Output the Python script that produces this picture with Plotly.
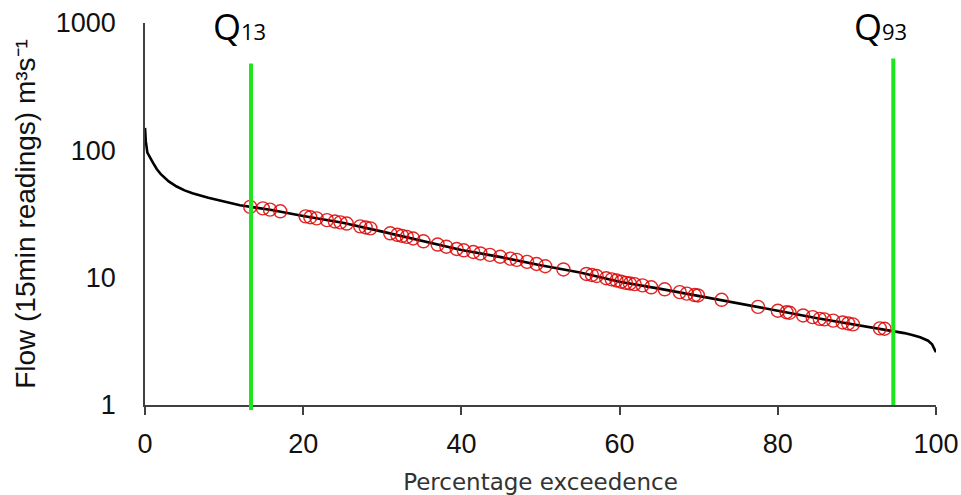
import plotly.graph_objects as go

# ---- data ----
curve_pct = [0, 0.1, 0.3, 0.6, 1, 1.5, 2, 3, 4, 5, 6, 8, 10, 12, 14, 16, 20, 25, 30, 35,
             40, 45, 50, 55, 60, 65, 70, 75, 80, 85, 90, 93, 95, 96, 97, 98, 99, 99.5, 99.8, 100]
curve_flow = [150, 118, 96, 88, 80, 71, 65, 57, 52, 48.5, 46, 42.5, 39.5, 37, 35.5, 34, 30.5, 27, 23, 19.5,
              16.5, 14.5, 12.5, 11, 9.3, 8.2, 7.2, 6.3, 5.5, 4.8, 4.25, 4.0, 3.8, 3.67, 3.55, 3.4, 3.2, 3.0, 2.75, 2.6]

obs_pct = [13.3, 14.9, 15.8, 17.1, 20.3, 20.9, 21.7, 23.0, 24.0, 24.7, 25.5, 27.2, 27.9, 28.5,
           31.0, 31.9, 32.5, 33.1, 33.9, 35.2, 37.0, 38.1, 39.4, 40.3, 41.5, 42.4, 43.6, 44.9,
           46.2, 47.0, 48.3, 49.5, 50.6, 52.9, 55.8, 56.5, 57.1, 58.3, 59.0, 59.6, 60.2, 60.8,
           61.3, 61.9, 62.9, 64.0, 65.7, 67.6, 68.5, 69.5, 69.9, 72.9, 77.5, 80.0, 81.1, 81.5,
           83.2, 84.4, 85.3, 85.9, 87.0, 88.2, 88.9, 89.5, 92.9, 93.5]
obs_flow = [36, 35, 34.2, 33.2, 30.3, 29.8, 29.2, 28.3, 27.6, 27.2, 26.6, 25.3, 24.8, 24.4,
            22.3, 21.7, 21.3, 20.9, 20.3, 19.3, 18.2, 17.5, 16.8, 16.4, 15.9, 15.5, 15.1, 14.6,
            14.1, 13.8, 13.3, 12.8, 12.3, 11.6, 10.7, 10.5, 10.3, 9.9, 9.7, 9.5, 9.3, 9.1,
            9.0, 8.9, 8.7, 8.4, 8.1, 7.7, 7.5, 7.3, 7.25, 6.7, 5.9, 5.5, 5.35, 5.3,
            5.05, 4.9, 4.75, 4.7, 4.6, 4.45, 4.37, 4.3, 4.0, 3.97]

q_labels = ["13", "93"]
q_pct = [13.4, 94.6]

x_ticks = [0, 20, 40, 60, 80, 100]
y_ticks = [1, 10, 100, 1000]
y_ticktext = ["1", "10", "100", "1000"]

fig = go.Figure()
fig.add_trace(go.Scatter(x=curve_pct, y=curve_flow, mode="lines",
                         line=dict(color="black", width=2.6), hoverinfo="skip"))
fig.add_trace(go.Scatter(x=obs_pct, y=obs_flow, mode="markers",
                         marker=dict(symbol="circle-open", size=13, color="rgba(220,0,0,0.85)",
                                     line=dict(width=1.4))))

tops = [0.894, 0.907]
bottoms = [-0.013, 0.0]
label_x = [11.9, 93.0]
for i, q in enumerate(q_pct):
    fig.add_shape(type="line", xref="x", yref="paper", x0=q, x1=q, y0=bottoms[i], y1=tops[i],
                  line=dict(color="#1ee61e", width=4), layer="above")
    fig.add_annotation(x=label_x[i], y=0.99, xref="x", yref="paper", showarrow=False,
                       xanchor="center", yanchor="middle",
                       text="Q<span style='font-size:22px'>" + q_labels[i] + "</span>",
                       font=dict(family="Open Sans", size=36, color="black"))

fig.update_layout(
    width=961, height=495,
    margin=dict(l=144.5, r=24.5, t=22.5, b=90),
    paper_bgcolor="white", plot_bgcolor="white",
    showlegend=False,
    xaxis=dict(range=[0, 100], tickvals=x_ticks, ticks="outside", ticklen=8, tickwidth=1.5,
               tickcolor="#404040", showline=True, linecolor="#404040", linewidth=1.5,
               showgrid=False, zeroline=False, ticklabelstandoff=6, automargin=False,
               tickfont=dict(family="Liberation Sans", size=27, color="#111"),
               title=dict(text="Percentage exceedence", standoff=20,
                          font=dict(family="DejaVu Sans", size=23, color="#333"))),
    yaxis=dict(type="log", range=[0, 3], tickvals=y_ticks, ticktext=y_ticktext, ticks="",
               showline=True, linecolor="#404040", linewidth=1.5, showgrid=False, zeroline=False,
               ticklabelstandoff=22, automargin=False,
               tickfont=dict(family="Liberation Sans", size=27, color="#111"),
               title=dict(text="Flow (15min readings) m³s⁻¹", standoff=12,
                          font=dict(family="Liberation Sans", size=28, color="#111"))),
)

fig.write_html("out.html")
